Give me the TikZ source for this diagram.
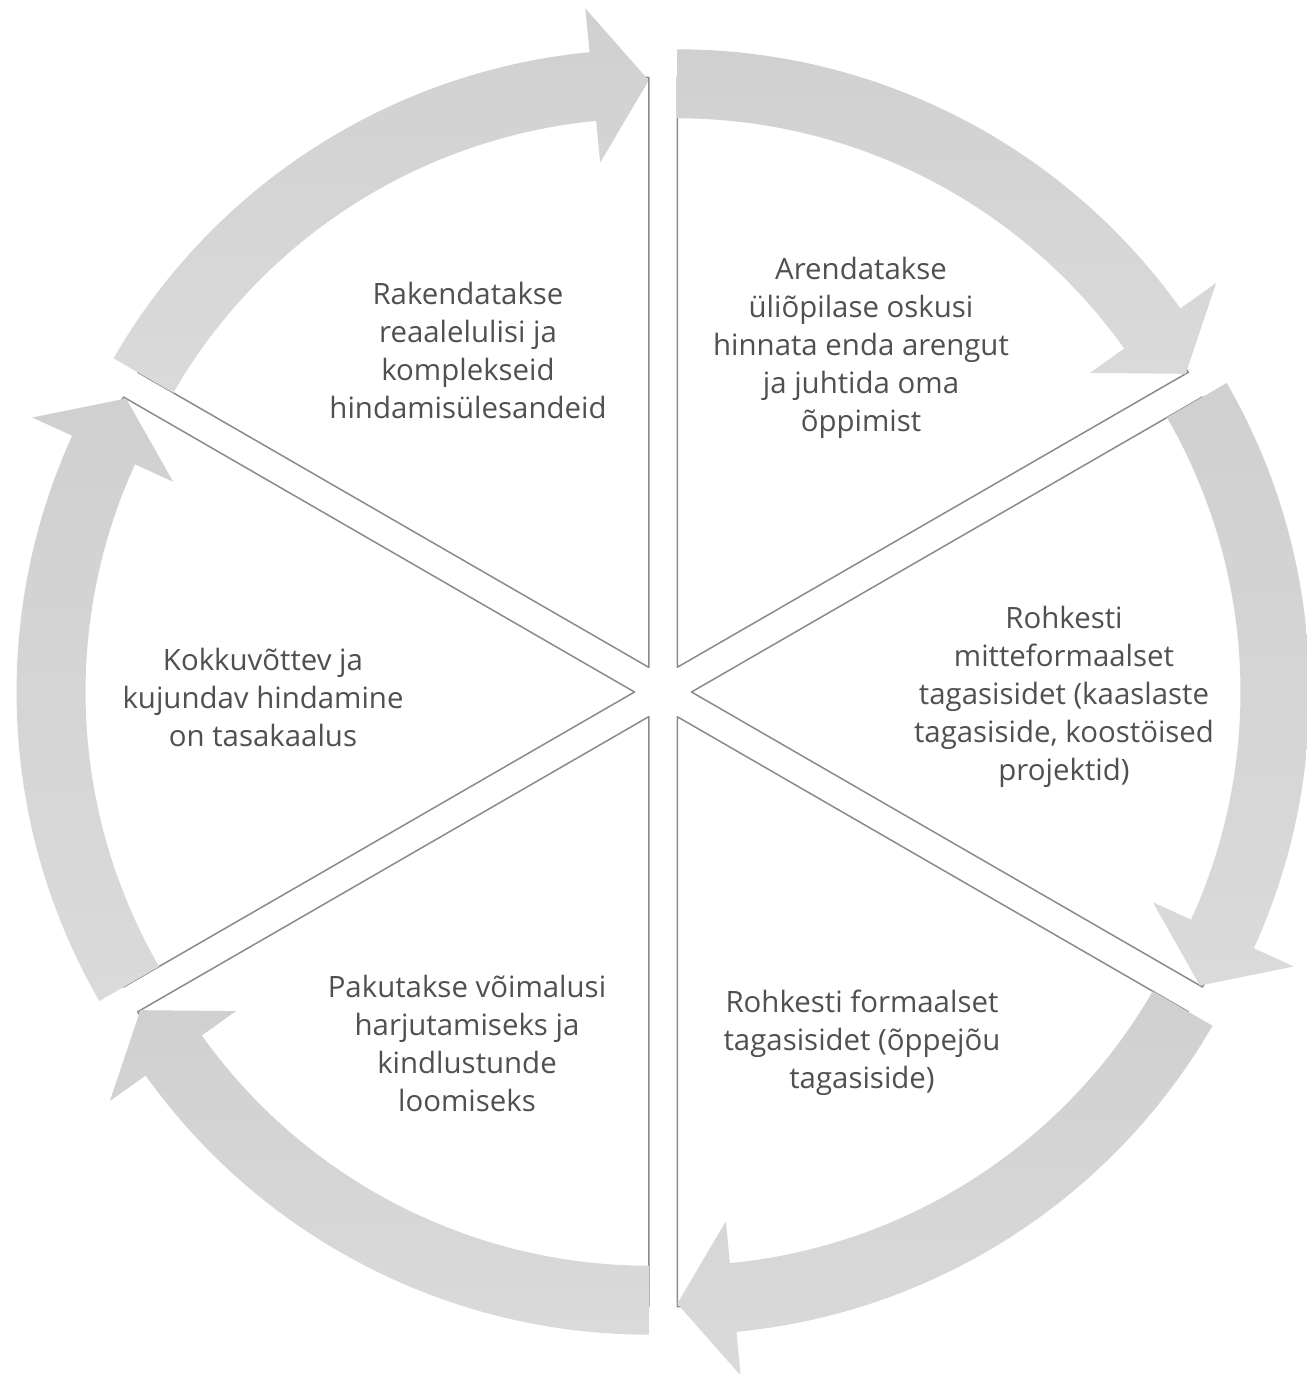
\documentclass[tikz,border=0pt]{standalone}
\usepackage{fontspec}
\setmainfont{Open Sans}
\usetikzlibrary{calc}
\definecolor{txt}{HTML}{505050}
\definecolor{edge}{HTML}{8A8A8A}
\definecolor{arrowA}{HTML}{D0D0D0}
\definecolor{arrowB}{HTML}{DADADA}
\begin{document}
\begin{tikzpicture}[x=0.5pt,y=0.5pt,
  wedge/.style={draw=edge, line width=0.75pt, fill=white, line join=round},
  arrowshape/.style={top color=arrowA, bottom color=arrowB, draw=none},
  lbl/.style={align=center, text=txt, inner sep=0pt, font=\fontsize{14.7}{19}\selectfont}]
\useasboundingbox (0,-1374) rectangle (1306,0);
\coordinate (C) at (663,-692);
\foreach \n/\b in {tr/60, r/0, br/-60, bl/-120, l/180, tl/120} {
  \coordinate (A\n) at ($(C)+(\b:28.5)$);
}
% wedges
\foreach \n/\b in {tr/60, r/0, br/-60, bl/-120, l/180, tl/120} {
  \pgfmathsetmacro\s{\b+30}
  \pgfmathsetmacro\e{\b-30}
  \draw[wedge] (A\n) -- ($(A\n)+(\s:590)$) arc[start angle=\s, end angle=\e, radius=590] -- cycle;
}
% arrows
\foreach \n/\b in {tr/60, r/0, br/-60, bl/-120, l/180, tl/120} {
  \pgfmathsetmacro\s{\b+30}
  \pgfmathsetmacro\e{\b-30}
  \pgfmathsetmacro\h{\e+5.5}
  \shade[arrowshape] ($(A\n)+(\s:549)$) -- ($(A\n)+(\s:618)$)
    arc[start angle=\s, end angle=\h, radius=618]
    -- ($(A\n)+(\h:662)$) -- ($(A\n)+(\e:587)$) -- ($(A\n)+(\h:507)$)
    -- ($(A\n)+(\h:549)$)
    arc[start angle=\h, end angle=\s, radius=549] -- cycle;
}
% labels
\node[lbl] (t1) at (468,-350) {Rakendatakse\\reaalelulisi ja\\komplekseid\\hindamisülesandeid};
\node[lbl] (t2) at (861,-348) {Arendatakse\\üliõpilase oskusi\\hinnata enda arengut\\ja juhtida oma\\õppimist};
\node[lbl] (t3) at (1064,-697) {Rohkesti\\mitteformaalset\\tagasisidet (kaaslaste\\tagasiside, koostöised\\projektid)};
\node[lbl] (t4) at (862,-1043) {Rohkesti formaalset\\tagasisidet (õppejõu\\tagasiside)};
\node[lbl] (t5) at (467,-1043) {Pakutakse võimalusi\\harjutamiseks ja\\kindlustunde\\loomiseks};
\node[lbl] (t6) at (263,-697) {Kokkuvõttev ja\\kujundav hindamine\\on tasakaalus};
\end{tikzpicture}
\end{document}
